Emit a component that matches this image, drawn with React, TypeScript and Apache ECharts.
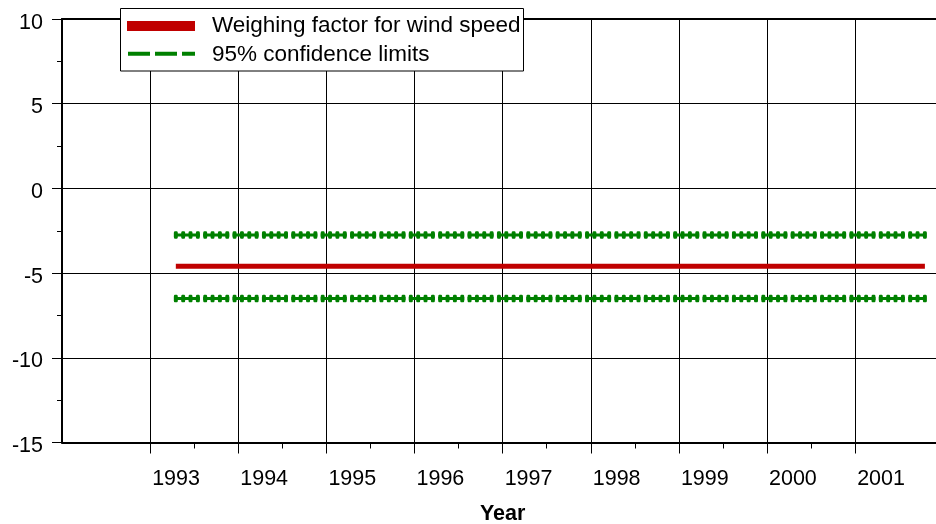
import React, { useEffect, useRef } from 'react';
import * as echarts from 'echarts';

// Year labels shown under the x axis (gridlines sit on 1 January of each year)
const yearLabels = ['1993', '1994', '1995', '1996', '1997', '1998', '1999', '2000', '2001'];
// Value-axis range and step
const yRange = [-15, 10];
const yStep = 5;
const xRange = [1992, 2002];

// Monthly estimates run from April 1993 to October 2001
const firstMonth: [number, number] = [1993, 4];
const lastMonth: [number, number] = [2001, 10];

// Estimated weighing factor and its 95 % confidence limits
const weighingFactor = -4.6;
const upperLimit = -2.75;
const lowerLimit = -6.5;

const seriesNames = ['Weighing factor for wind speed', '95% confidence limits'];

const FONT = '"Liberation Sans", Arial, Helvetica, sans-serif';
const RED = '#C00000';
const GREEN = '#008000';

// Months placed mid-month on a decimal-year scale
function monthPositions(): number[] {
  const out: number[] = [];
  let [y, m] = firstMonth;
  while (y < lastMonth[0] || (y === lastMonth[0] && m <= lastMonth[1])) {
    out.push(y + (m - 0.5) / 12);
    m += 1;
    if (m > 12) {
      m = 1;
      y += 1;
    }
  }
  return out;
}

// Plot geometry (the plot runs slightly past the right edge of the page)
const GRID_LEFT = 62;
const GRID_TOP = 19;
const PLOT_W = 881.25;
const PLOT_H = 423.5;
const MONTH_PX = PLOT_W / ((xRange[1] - xRange[0]) * 12);
// dashes cover three markers each, gaps fall between markers
const MARK_W = 4;
const DASH = [3 * MONTH_PX + MARK_W, MONTH_PX - MARK_W];

export default function App() {
  const ref = useRef<HTMLDivElement>(null);

  useEffect(() => {
    if (!ref.current) return;
    const chart = echarts.init(ref.current, undefined, { renderer: 'svg' });
    const months = monthPositions();
    const yearTicks = yearLabels.map(Number);
    const halfYearTicks = yearTicks.slice(0, -1).map((y) => y + 0.5);

    const tickLabelStyle = {
      fontFamily: FONT,
      fontSize: 21.5,
      color: '#000',
    };

    chart.setOption({
      animation: false,
      textStyle: { fontFamily: FONT },
      grid: {
        left: GRID_LEFT,
        top: GRID_TOP,
        width: PLOT_W,
        height: PLOT_H,
        containLabel: false,
        outerBoundsMode: 'none',
      },
      xAxis: [
        {
          type: 'value',
          min: xRange[0],
          max: xRange[1],
          interval: 1,
          position: 'bottom',
          axisLine: { show: true, onZero: false, lineStyle: { color: '#000', width: 2 } },
          axisTick: {
            show: true,
            length: 11,
            customValues: yearTicks,
            lineStyle: { color: '#000', width: 1 },
          },
          minorTick: { show: false },
          splitLine: { show: true, lineStyle: { color: '#000', width: 1 } },
          axisLabel: {
            ...tickLabelStyle,
            customValues: yearTicks,
            align: 'left',
            margin: 24,
            padding: [0, 0, 0, 2],
            formatter: (v: number) => String(v),
          },
          name: 'Year',
          nameLocation: 'middle',
          nameGap: 59,
          nameTextStyle: {
            fontFamily: FONT,
            fontSize: 21.5,
            fontWeight: 'bold',
            color: '#000',
          },
        },
        {
          // top border of the plot
          type: 'value',
          min: xRange[0],
          max: xRange[1],
          position: 'top',
          axisLine: { show: true, onZero: false, lineStyle: { color: '#000', width: 2 } },
          axisTick: { show: false },
          axisLabel: { show: false },
          splitLine: { show: false },
        },
        {
          // half-year ticks under the bottom axis
          type: 'value',
          min: xRange[0],
          max: xRange[1],
          position: 'bottom',
          axisLine: { show: false, onZero: false },
          axisTick: {
            show: true,
            length: 6,
            customValues: halfYearTicks,
            lineStyle: { color: '#000', width: 1 },
          },
          axisLabel: { show: false },
          splitLine: { show: false },
        },
      ],
      yAxis: {
        type: 'value',
        min: yRange[0],
        max: yRange[1],
        interval: yStep,
        axisLine: { show: true, onZero: false, lineStyle: { color: '#000', width: 2 } },
        axisTick: { show: true, length: 10, lineStyle: { color: '#000', width: 1 } },
        minorTick: { show: true, splitNumber: 2, length: 5, lineStyle: { color: '#000', width: 1 } },
        splitLine: { show: true, lineStyle: { color: '#000', width: 1 } },
        axisLabel: {
          ...tickLabelStyle,
          margin: 19,
          verticalAlign: 'top',
          lineHeight: 5,
        },
      },
      series: [
        {
          name: seriesNames[0],
          type: 'line',
          xAxisIndex: 0,
          data: months.map((x) => [x, weighingFactor]),
          symbol: 'none',
          silent: true,
          lineStyle: { color: RED, width: 5, cap: 'butt' },
          z: 3,
        },
        ...[upperLimit, lowerLimit].map((v) => ({
          name: seriesNames[1],
          type: 'line',
          xAxisIndex: 0,
          data: months.map((x) => [x, v]),
          symbol: 'roundRect',
          symbolSize: [MARK_W, 7.5],
          showSymbol: true,
          showAllSymbol: true,
          silent: true,
          itemStyle: { color: GREEN, borderWidth: 0 },
          lineStyle: {
            color: GREEN,
            width: 3,
            type: DASH,
            dashOffset: MARK_W / 2,
            cap: 'butt',
          },
          z: 4,
        })),
      ],
      graphic: [
        {
          type: 'group',
          z: 100,
          children: [
            {
              type: 'rect',
              shape: { x: 120.5, y: 8.5, width: 403, height: 62.5 },
              style: { fill: '#fff', stroke: '#000', lineWidth: 1 },
              z: 100,
            },
            {
              type: 'rect',
              shape: { x: 127, y: 21, width: 68, height: 10 },
              style: { fill: RED },
              z: 101,
            },
            {
              type: 'line',
              shape: { x1: 128, y1: 53.7, x2: 195, y2: 53.7 },
              style: { stroke: GREEN, lineWidth: 4, lineDash: [22, 5] },
              z: 101,
            },
            {
              type: 'text',
              x: 212,
              y: 24,
              style: {
                text: seriesNames[0],
                fontFamily: FONT,
                fontSize: 22.5,
                fill: '#000',
                verticalAlign: 'middle',
                align: 'left',
              },
              z: 101,
            },
            {
              type: 'text',
              x: 212,
              y: 53.5,
              style: {
                text: seriesNames[1],
                fontFamily: FONT,
                fontSize: 22.5,
                fill: '#000',
                verticalAlign: 'middle',
                align: 'left',
              },
              z: 101,
            },
          ],
        },
      ],
    });

    return () => chart.dispose();
  }, []);

  return (
    <div
      ref={ref}
      style={{ position: 'fixed', left: 0, top: 0, width: 936, height: 524 }}
    />
  );
}
